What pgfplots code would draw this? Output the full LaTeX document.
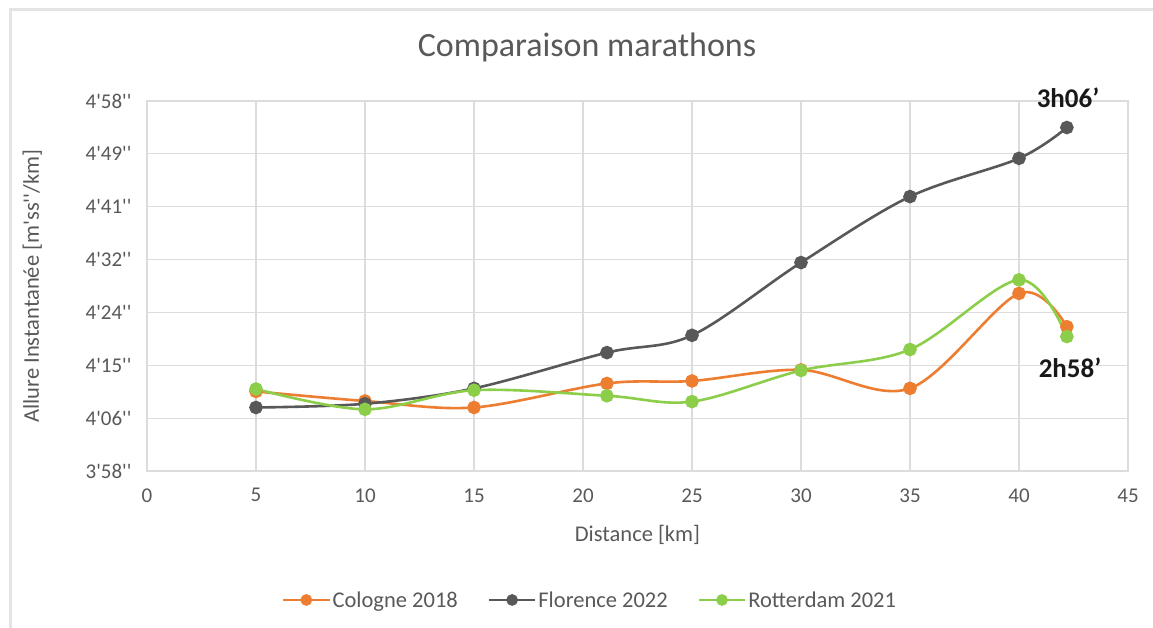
\documentclass[border=0pt]{standalone}
\usepackage{pgfplots}
\pgfplotsset{compat=1.18}
\usepackage{pgfplotstable}
\usepackage{fontspec}
\setmainfont[Ligatures=TeXOff]{Carlito}
\definecolor{corange}{RGB}{237,125,49}
\definecolor{cgray}{RGB}{88,88,88}
\definecolor{cgreen}{RGB}{140,206,74}
\definecolor{gridc}{RGB}{220,220,220}
\definecolor{textc}{RGB}{89,89,89}
\definecolor{framec}{RGB}{228,228,228}

\pgfplotstableread{
x       cologne florence rotterdam
5       250.9   248.3    251.3
10      249.35  248.9    248.0
15      248.3   251.4    251.1
21.0975 252.2   257.2    250.2
25      252.6   260.0    249.25
30      254.4   271.8    254.3
35      251.4   282.5    257.7
40      266.8   288.7    269.0
42.195  261.4   293.7    259.8
}\datatable

\begin{document}
\begin{tikzpicture}
\path[use as bounding box] (0bp,0bp) rectangle (1153bp,628bp);
\fill[white] (0bp,0bp) rectangle (1153bp,628bp);
\draw[framec, line width=3bp] (10bp,0bp) -- (10bp,618bp) -- (1153bp,618bp);
\node[anchor=base, text=textc, font=\fontsize{34bp}{40bp}\selectfont] at (587bp,571bp) {Comparaison marathons};
\begin{axis}[
  at={(147bp,157bp)}, anchor=south west,
  scale only axis, width=981bp, height=370bp,
  xmin=0, xmax=45, ymin=238, ymax=298,
  xtick={0,5,10,15,20,25,30,35,40,45},
  xticklabels={0,5,10,15,20,25,30,35,40,45},
  ytick={238,246.5714,255.1429,263.7143,272.2857,280.8571,289.4286,298},
  yticklabels={3'58'',4'06'',4'15'',4'24'',4'32'',4'41'',4'49'',4'58''},
  grid=major,
  grid style={color=gridc, line width=1.2bp},
  axis line style={color=gridc, line width=1.2bp},
  tick style={draw=none},
  ticklabel style={text=textc, font=\fontsize{21bp}{25bp}\selectfont},
  xticklabel style={yshift=-14bp},
  yticklabel style={xshift=-12bp},
  xlabel={Distance [km]},
  ylabel={Allure Instantanée [m'ss''/km]},
  label style={text=textc, font=\fontsize{22.5bp}{27bp}\selectfont},
  xlabel style={at={(axis description cs:0.5,-0.173)}, anchor=center},
  ylabel style={at={(axis description cs:-0.117,0.5)}, anchor=center},
  clip=false,
  legend columns=3,
  legend style={at={(axis description cs:0.4516,-0.3486)}, anchor=center, draw=none, fill=none,
    font=\fontsize{22.5bp}{27bp}\selectfont, text=textc,
    /tikz/every even column/.append style={column sep=28bp}},
  legend image code/.code={\draw[mark repeat=2,mark phase=2,#1,mark size=4.5bp] plot coordinates {(0bp,0bp) (23bp,0bp) (46bp,0bp)};},
]
\addplot[smooth, tension=0.55, color=corange, line width=2.6bp, mark=*, mark size=5.5bp, mark options={solid, fill=corange, draw=corange}] table[x=x, y=cologne] {\datatable};
\addlegendentry{Cologne 2018}
\addplot[smooth, tension=0.55, color=cgray, line width=2.6bp, mark=*, mark size=5.5bp, mark options={solid, fill=cgray, draw=cgray}] table[x=x, y=florence] {\datatable};
\addlegendentry{Florence 2022}
\addplot[smooth, tension=0.55, color=cgreen, line width=2.6bp, mark=*, mark size=5.5bp, mark options={solid, fill=cgreen, draw=cgreen}] table[x=x, y=rotterdam] {\datatable};
\addlegendentry{Rotterdam 2021}
\node[font=\bfseries\fontsize{27bp}{32bp}\selectfont, text=black!90] at (axis cs:42.25,298.6) {3h06’};
\node[font=\bfseries\fontsize{27bp}{32bp}\selectfont, text=black!90] at (axis cs:42.34,254.7) {2h58’};
\end{axis}
\end{tikzpicture}
\end{document}
